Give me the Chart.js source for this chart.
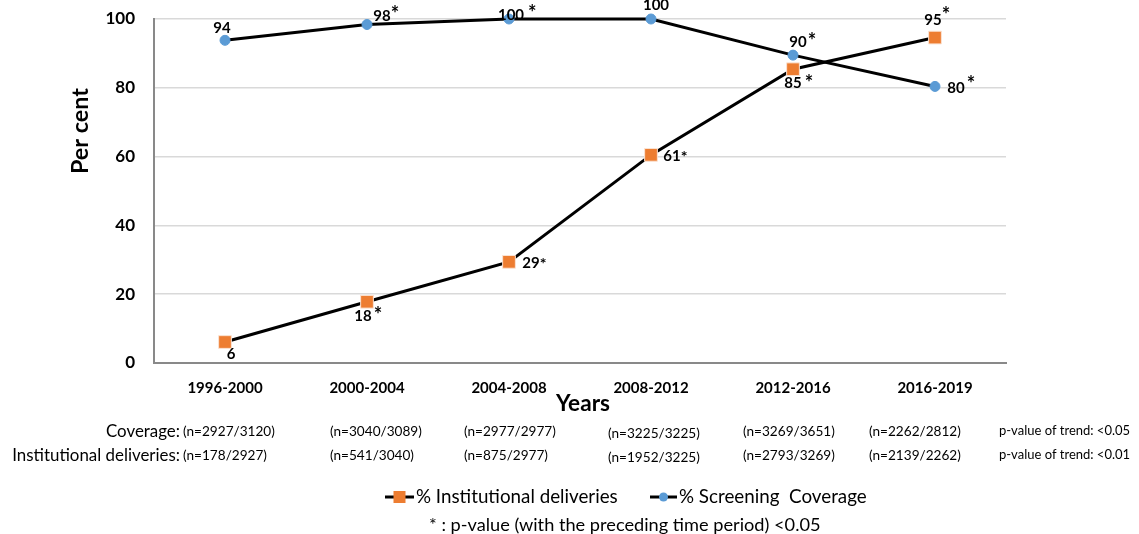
<!DOCTYPE html>
<html>
<head>
<meta charset="utf-8">
<script src="https://cdn.jsdelivr.net/npm/chart.js@4.4.1/dist/chart.umd.min.js"></script>
<style>
  html, body { margin: 0; padding: 0; background: #ffffff; }
  #wrap { width: 1139px; height: 534px; position: relative; }
</style>
</head>
<body>
<div id="wrap"><canvas id="c" width="1139" height="534"></canvas></div>
<script>
// ---------- data ----------
const categories = ['1996-2000', '2000-2004', '2004-2008', '2008-2012', '2012-2016', '2016-2019'];
const institutional = [6.1, 17.8, 29.4, 60.5, 85.4, 94.6];
const coverage = [93.8, 98.4, 100, 100, 89.5, 80.4];
const institutionalStar = [false, true, true, true, true, true];
const coverageStar = [false, true, true, false, true, true];
const coverageN = ['(n=2927/3120)', '(n=3040/3089)', '(n=2977/2977)', '(n=3225/3225)', '(n=3269/3651)', '(n=2262/2812)'];
const institutionalN = ['(n=178/2927)', '(n=541/3040)', '(n=875/2977)', '(n=1952/3225)', '(n=2793/3269)', '(n=2139/2262)'];
const yTicks = [0, 20, 40, 60, 80, 100];
const seriesNames = ['% Institutional deliveries', '% Screening  Coverage'];
const rowNames = ['Coverage:', 'Institutional deliveries:'];
const trendNotes = ['p-value of trend: <0.05', 'p-value of trend: <0.01'];
const footnote = '* : p-value (with the preceding time period) <0.05';
const xTitle = 'Years';
const yTitle = 'Per cent';

// ---------- label placement (style only) ----------
const instLabelPos = [
  {dx: 6, dy: 12, sdy: 0, gap: 1, sup: false},
  {dx: -4, dy: 14, sdy: -3, gap: 2, sup: true},
  {dx: 22, dy: 1, sdy: 0, gap: 0, sup: false},
  {dx: 21, dy: 1, sdy: 0, gap: 0, sup: false},
  {dx: 0, dy: 14, sdy: -3, gap: 3, sup: true},
  {dx: -2, dy: -17, sdy: -8, gap: 0, sup: true}
];
const covLabelPos = [
  {dx: -3, dy: -12, sdy: 0, gap: 0, sup: false},
  {dx: 15, dy: -8, sdy: -5, gap: 0, sup: true},
  {dx: 2, dy: -4, sdy: -4, gap: 4, sup: true},
  {dx: 5, dy: -14, sdy: 0, gap: 0, sup: false},
  {dx: 5, dy: -13, sdy: -4, gap: 1, sup: true},
  {dx: 21, dy: 2, sdy: -7, gap: 2, sup: true}
];
const nColX = [183, 330, 464, 608, 743, 869];
const FONT = 'Lato, "Open Sans", sans-serif';
const ORANGE = '#ed7d31';
const BLUE = '#5b9bd5';

function fitSize(ctx, text, weight, target) {
  ctx.font = weight + ' 100px ' + FONT;
  const w = ctx.measureText(text).width;
  return 100 * target / w;
}

const labelsPlugin = {
  id: 'labelsPlugin',
  afterDatasetsDraw(chart) {
    const ctx = chart.ctx;
    ctx.save();
    ctx.fillStyle = '#000';
    ctx.textBaseline = 'middle';
    const sets = [
      {meta: chart.getDatasetMeta(0), vals: institutional, stars: institutionalStar, pos: instLabelPos},
      {meta: chart.getDatasetMeta(1), vals: coverage, stars: coverageStar, pos: covLabelPos}
    ];
    sets.forEach(s => {
      s.meta.data.forEach((pt, i) => {
        const txt = String(Math.round(s.vals[i]));
        const p = s.pos[i];
        const cx = pt.x + p.dx, cy = pt.y + p.dy;
        ctx.font = 'bold 15px ' + FONT;
        const w = ctx.measureText(txt).width;
        ctx.textAlign = 'center';
        ctx.fillText(txt, cx, cy);
        if (s.stars[i]) {
          ctx.textAlign = 'left';
          ctx.font = (p.sup ? 'bold 20px ' : 'bold 16px ') + FONT;
          ctx.fillText('*', cx + w / 2 + p.gap, cy + p.sdy + (p.sup ? 3 : 1));
        }
      });
    });
    ctx.restore();
  },
  afterDraw(chart) {
    const ctx = chart.ctx;
    ctx.save();
    ctx.fillStyle = '#000';
    ctx.textBaseline = 'middle';

    let fs = fitSize(ctx, yTitle, 'bold', 86);
    ctx.font = 'bold ' + fs.toFixed(1) + 'px ' + FONT;
    ctx.save();
    ctx.translate(80, 131);
    ctx.rotate(-Math.PI / 2);
    ctx.textAlign = 'center';
    ctx.fillText(yTitle, 0, 0);
    ctx.restore();

    fs = fitSize(ctx, xTitle, 'bold', 54);
    ctx.font = 'bold ' + fs.toFixed(1) + 'px ' + FONT;
    ctx.textAlign = 'center';
    ctx.fillText(xTitle, 583, 404);

    fs = fitSize(ctx, rowNames[1], 'normal', 168);
    ctx.font = fs.toFixed(1) + 'px ' + FONT;
    ctx.textAlign = 'right';
    ctx.fillText(rowNames[0], 180, 432);
    ctx.fillText(rowNames[1], 180, 456);

    fs = fitSize(ctx, coverageN[0], 'normal', 92);
    ctx.font = fs.toFixed(1) + 'px ' + FONT;
    ctx.textAlign = 'left';
    for (let i = 0; i < categories.length; i++) {
      const extra = i === 3 ? 2 : 0;
      ctx.fillText(coverageN[i], nColX[i], 432 + extra);
      ctx.fillText(institutionalN[i], nColX[i], 456 + extra);
    }

    fs = fitSize(ctx, trendNotes[0], 'normal', 131);
    ctx.font = fs.toFixed(1) + 'px ' + FONT;
    ctx.fillText(trendNotes[0], 999, 431);
    ctx.fillText(trendNotes[1], 999, 455);

    fs = fitSize(ctx, seriesNames[0], 'normal', 202);
    ctx.font = fs.toFixed(1) + 'px ' + FONT;
    const ly = 497;
    const items = [
      {x0: 385, x1: 414, tx: 416, style: 'rect', color: ORANGE},
      {x0: 650, x1: 677, tx: 679, style: 'circle', color: BLUE}
    ];
    items.forEach((it, k) => {
      ctx.strokeStyle = '#000';
      ctx.lineWidth = 3;
      ctx.beginPath();
      ctx.moveTo(it.x0, ly);
      ctx.lineTo(it.x1, ly);
      ctx.stroke();
      const mx = (it.x0 + it.x1) / 2;
      ctx.fillStyle = it.color;
      if (it.style === 'rect') {
        ctx.fillRect(mx - 6, ly - 6, 12, 12);
      } else {
        ctx.beginPath();
        ctx.arc(mx, ly, 4.5, 0, Math.PI * 2);
        ctx.fill();
      }
      ctx.fillStyle = '#000';
      ctx.textAlign = 'left';
      ctx.fillText(seriesNames[k], it.tx, ly);
    });

    fs = fitSize(ctx, footnote, 'normal', 391);
    ctx.font = fs.toFixed(1) + 'px ' + FONT;
    ctx.textAlign = 'left';
    ctx.fillText(footnote, 429, 525);

    ctx.restore();
  }
};

new Chart(document.getElementById('c'), {
  type: 'line',
  data: {
    labels: categories,
    datasets: [
      {
        label: seriesNames[0],
        data: institutional,
        borderColor: '#000',
        borderWidth: 3,
        tension: 0,
        pointStyle: 'rect',
        pointRadius: 9,
        pointBackgroundColor: ORANGE,
        pointBorderColor: '#fbe3d3',
        pointBorderWidth: 1,
        clip: false
      },
      {
        label: seriesNames[1],
        data: coverage,
        borderColor: '#000',
        borderWidth: 3,
        tension: 0,
        pointStyle: 'circle',
        pointRadius: 5,
        pointBackgroundColor: BLUE,
        pointBorderColor: BLUE,
        pointBorderWidth: 1,
        clip: false
      }
    ]
  },
  options: {
    responsive: false,
    animation: false,
    events: [],
    layout: { padding: { top: 19, right: 133, left: 0, bottom: 0 } },
    plugins: { legend: { display: false }, tooltip: { enabled: false } },
    scales: {
      x: {
        type: 'category',
        offset: true,
        grid: { display: false, drawTicks: false },
        border: { display: true, color: '#898989', width: 2 },
        ticks: { color: '#000', font: { family: FONT, size: 15, weight: 'bold' }, padding: 16, maxRotation: 0, autoSkip: false },
        afterFit(s) { s.height = 171; s.paddingLeft = 0; s.paddingRight = 0; }
      },
      y: {
        min: 0,
        max: 100,
        afterBuildTicks(s) { s.ticks = yTicks.map(v => ({ value: v })); },
        grid: { color: '#d9d9d9', lineWidth: 1.5, drawTicks: false },
        border: { display: true, color: '#898989', width: 2 },
        ticks: { color: '#000', font: { family: FONT, size: 17, weight: 'bold' }, padding: 19 },
        afterFit(s) { s.width = 154; s.paddingTop = 0; s.paddingBottom = 0; }
      }
    }
  },
  plugins: [labelsPlugin]
});
</script>
</body>
</html>
